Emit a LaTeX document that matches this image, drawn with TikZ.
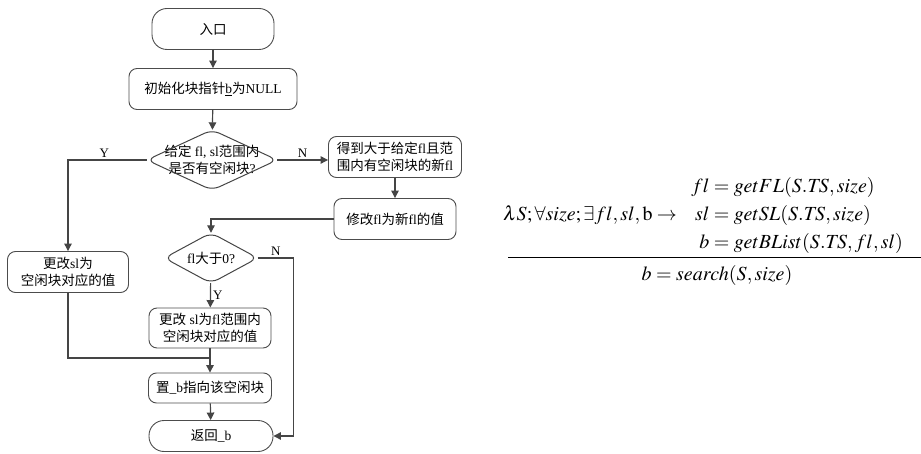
\documentclass[tikz,border=0pt]{standalone}
\usepackage{amsmath}
\usepackage{mathptmx}
\usepackage[no-math]{fontspec}
\setmainfont{Liberation Serif}
\newfontfamily\cjk{Noto Sans CJK SC}
\usetikzlibrary{arrows.meta,calc}

\newcommand\zh[1]{{\cjk #1}}
\definecolor{linegray}{gray}{0.27}
\definecolor{boxgray}{gray}{0.3}

\tikzset{
  box/.style={draw=boxgray, line width=0.9pt, rounded corners=8pt, align=center,
    inner sep=0pt, font=\fontsize{13.5}{17}\selectfont},
  term/.style={box, rounded corners=15pt},
  choice/.style={inner sep=0pt, align=center, font=\fontsize{13.5}{17}\selectfont},
  line/.style={draw=linegray, line width=1.2pt},
  flow/.style={line, -{Triangle[length=7.5pt,width=7.5pt]}},
  yn/.style={font=\fontsize{13}{13}\selectfont, inner sep=2pt},
  rule/.style={font=\fontsize{20}{25}\selectfont}
}

\begin{document}
\begin{tikzpicture}[x=1pt,y=-1pt]
    \path[use as bounding box] (0,0) rectangle (921,454);

    % main column
    \node[term, minimum width=122pt, minimum height=41pt] (entry) at (213,29) {\zh{入口}};
    \node[box, minimum width=168pt, minimum height=41pt] (init) at (213,89) {\zh{初始化块指针}\underline{b}\zh{为}NULL};
    \node[choice, minimum width=130pt, minimum height=60pt] (check) at (212,160) {\zh{给定} fl, sl\zh{范围内}\\\zh{是否有空闲块}?};
    \draw[line, line width=1pt, rounded corners=8pt] (check.north) -- (check.east) -- (check.south) -- (check.west) -- cycle;

    % right branch
    \node[box, minimum width=133pt, minimum height=41pt] (bigger) at (395,157) {\zh{得到大于给定}fl\zh{且范}\\\zh{围内有空闲块的新}fl};
    \node[box, minimum width=122pt, minimum height=41pt] (newfl) at (395,219) {\zh{修改}fl\zh{为新}fl\zh{的值}};
    \node[choice, minimum width=93pt, minimum height=50pt] (positive) at (211,258) {fl\zh{大于}0?};
    \draw[line, line width=1pt, rounded corners=8pt] (positive.north) -- (positive.east) -- (positive.south) -- (positive.west) -- cycle;
    \node[box, minimum width=122pt, minimum height=40pt] (modsl) at (210,328) {\zh{更改} sl\zh{为}fl\zh{范围内}\\\zh{空闲块对应的值}};

    % left branch
    \node[box, minimum width=121pt, minimum height=41pt] (fix) at (68,272) {\zh{更改}sl\zh{为}\\\zh{空闲块对应的值}};

    \node[box, minimum width=123pt, minimum height=30pt] (place) at (210,388) {\zh{置}\_b\zh{指向该空闲块}};
    \node[term, minimum width=124pt, minimum height=31pt] (ret) at (211,436) {\zh{返回}\_b};
    \coordinate (join) at ($(modsl.south)!.4!(place.north)$);

    \draw[flow] (entry) -- (init);
    \draw[flow] (init) -- (check);
    \draw[flow] (check.west) -| node[pos=.27, above, yn] {Y} (fix.north);
    \draw[flow] (check.east) -- node[above, yn] {N} (check.east -| bigger.west);
    \draw[flow] (bigger) -- (newfl);
    \draw[flow] (newfl.west) -| (positive.north);
    \draw[flow] (positive.east) -- node[above, yn] {N} ++(36,0) |- (ret.east);
    \draw[flow] (positive) -- node[right, yn] {Y} (modsl);
    \draw[flow] (modsl) -- (place);
    \draw[line] (fix.south) |- (join);
    \draw[flow] (place) -- (ret);

    % typing rule
    \node[rule, anchor=base west, inner sep=0pt] (premise) at (503,221)
      {$\lambda S;\forall size;\exists fl,sl,\mathrm{b}\rightarrow\ \
        \begin{aligned}
          fl &= getFL(S.T\mkern-2mu S,size)\\
          sl &= getSL(S.T\mkern-2mu S,size)\\
          b &= getBList(S.T\mkern-2mu S,fl,sl)
        \end{aligned}$};
    \draw[line width=1pt] (508,258) -- (921,258);
    \node[rule, anchor=base, inner sep=0pt] (concl) at (717,281) {$b = search(S,size)$};
\end{tikzpicture}
\end{document}
